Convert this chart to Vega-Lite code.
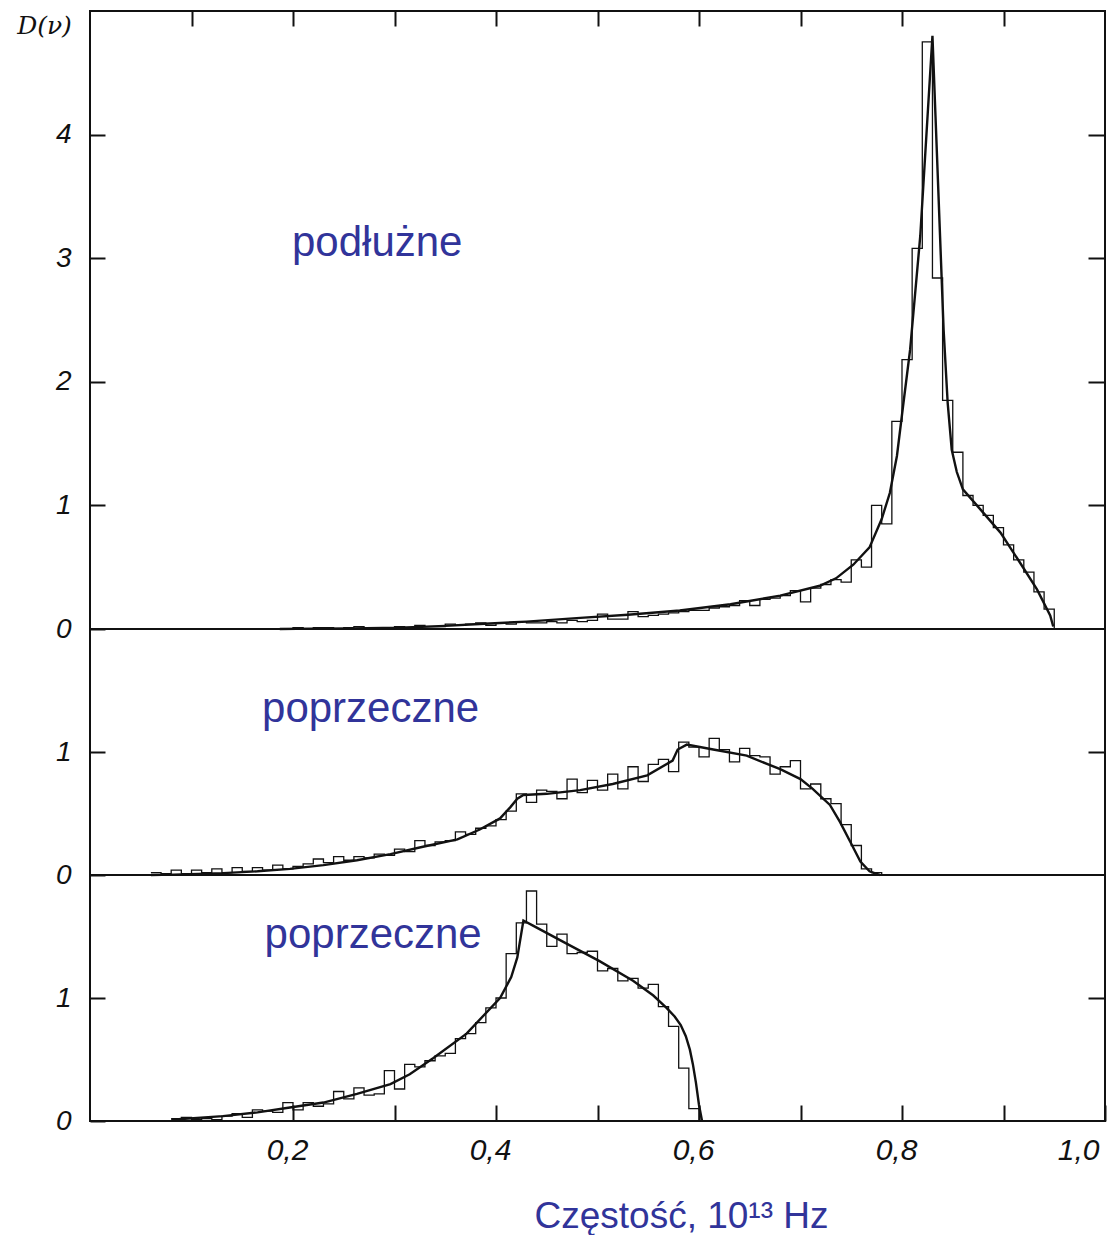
{
  "$schema": "https://vega.github.io/schema/vega-lite/v6.json",
  "padding": {"left": 15, "top": 9, "right": 3, "bottom": 3},
  "background": "white",
  "spacing": 0,
  "bounds": "flush",
  "config": {
    "view": {"stroke": "#111", "strokeWidth": 2},
    "axis": {"grid": false, "domain": false, "tickColor": "#111", "tickWidth": 2, "labelColor": "#111", "labelFont": "Liberation Sans", "labelFontStyle": "italic", "labelFontWeight": "normal"}
  },
  "datasets": {
    "top_hist": [
      {"x":0.19,"y":0.0},{"x":0.20,"y":0.01},{"x":0.21,"y":0.0},{"x":0.22,"y":0.01},{"x":0.23,"y":0.01},{"x":0.24,"y":0.0},{"x":0.25,"y":0.01},{"x":0.26,"y":0.02},{"x":0.27,"y":0.01},{"x":0.28,"y":0.0},{"x":0.29,"y":0.01},{"x":0.30,"y":0.02},{"x":0.31,"y":0.01},{"x":0.32,"y":0.03},{"x":0.33,"y":0.02},{"x":0.34,"y":0.02},{"x":0.35,"y":0.04},{"x":0.36,"y":0.03},{"x":0.37,"y":0.04},{"x":0.38,"y":0.05},{"x":0.39,"y":0.03},{"x":0.40,"y":0.05},{"x":0.41,"y":0.04},{"x":0.42,"y":0.06},{"x":0.43,"y":0.05},{"x":0.44,"y":0.05},{"x":0.45,"y":0.06},{"x":0.46,"y":0.05},{"x":0.47,"y":0.07},{"x":0.48,"y":0.06},{"x":0.49,"y":0.07},{"x":0.50,"y":0.12},{"x":0.51,"y":0.08},{"x":0.52,"y":0.08},{"x":0.53,"y":0.14},{"x":0.54,"y":0.10},{"x":0.55,"y":0.11},{"x":0.56,"y":0.12},{"x":0.57,"y":0.13},{"x":0.58,"y":0.14},{"x":0.59,"y":0.15},{"x":0.60,"y":0.15},{"x":0.61,"y":0.17},{"x":0.62,"y":0.18},{"x":0.63,"y":0.19},{"x":0.64,"y":0.23},{"x":0.65,"y":0.19},{"x":0.66,"y":0.24},{"x":0.67,"y":0.25},{"x":0.68,"y":0.27},{"x":0.69,"y":0.31},{"x":0.70,"y":0.22},{"x":0.71,"y":0.33},{"x":0.72,"y":0.36},{"x":0.73,"y":0.40},{"x":0.74,"y":0.38},{"x":0.75,"y":0.56},{"x":0.76,"y":0.50},{"x":0.77,"y":1.00},{"x":0.78,"y":0.85},{"x":0.79,"y":1.68},{"x":0.80,"y":2.18},{"x":0.81,"y":3.08},{"x":0.82,"y":4.75},{"x":0.83,"y":2.84},{"x":0.84,"y":1.85},{"x":0.85,"y":1.43},{"x":0.86,"y":1.08},{"x":0.87,"y":1.00},{"x":0.88,"y":0.92},{"x":0.89,"y":0.82},{"x":0.90,"y":0.68},{"x":0.91,"y":0.56},{"x":0.92,"y":0.46},{"x":0.93,"y":0.30},{"x":0.94,"y":0.16},{"x":0.95,"y":0.0}
    ],
    "top_curve": [
      {"x":0.187,"y":0.0},{"x":0.22,"y":0.003},{"x":0.256,"y":0.005},{"x":0.305,"y":0.01},{"x":0.35,"y":0.025},{"x":0.384,"y":0.04},{"x":0.43,"y":0.06},{"x":0.483,"y":0.09},{"x":0.53,"y":0.115},{"x":0.581,"y":0.15},{"x":0.631,"y":0.2},{"x":0.68,"y":0.27},{"x":0.719,"y":0.35},{"x":0.735,"y":0.41},{"x":0.752,"y":0.52},{"x":0.768,"y":0.66},{"x":0.78,"y":0.89},{"x":0.788,"y":1.1},{"x":0.795,"y":1.4},{"x":0.801,"y":1.8},{"x":0.808,"y":2.26},{"x":0.818,"y":3.18},{"x":0.83,"y":4.8},{"x":0.833,"y":4.15},{"x":0.836,"y":3.5},{"x":0.841,"y":2.42},{"x":0.845,"y":1.83},{"x":0.849,"y":1.45},{"x":0.854,"y":1.27},{"x":0.86,"y":1.13},{"x":0.877,"y":0.97},{"x":0.897,"y":0.78},{"x":0.916,"y":0.54},{"x":0.933,"y":0.32},{"x":0.946,"y":0.11},{"x":0.949,"y":0.02}
    ],
    "mid_hist": [
      {"x":0.06,"y":0.02},{"x":0.07,"y":0.01},{"x":0.08,"y":0.04},{"x":0.09,"y":0.01},{"x":0.10,"y":0.04},{"x":0.11,"y":0.02},{"x":0.12,"y":0.05},{"x":0.13,"y":0.02},{"x":0.14,"y":0.06},{"x":0.15,"y":0.03},{"x":0.16,"y":0.06},{"x":0.17,"y":0.04},{"x":0.18,"y":0.08},{"x":0.19,"y":0.05},{"x":0.20,"y":0.07},{"x":0.21,"y":0.09},{"x":0.22,"y":0.13},{"x":0.23,"y":0.10},{"x":0.24,"y":0.15},{"x":0.25,"y":0.12},{"x":0.26,"y":0.15},{"x":0.27,"y":0.14},{"x":0.28,"y":0.17},{"x":0.29,"y":0.16},{"x":0.30,"y":0.21},{"x":0.31,"y":0.19},{"x":0.32,"y":0.28},{"x":0.33,"y":0.24},{"x":0.34,"y":0.27},{"x":0.35,"y":0.28},{"x":0.36,"y":0.35},{"x":0.37,"y":0.33},{"x":0.38,"y":0.38},{"x":0.39,"y":0.40},{"x":0.40,"y":0.45},{"x":0.41,"y":0.52},{"x":0.42,"y":0.66},{"x":0.43,"y":0.59},{"x":0.44,"y":0.69},{"x":0.45,"y":0.68},{"x":0.46,"y":0.62},{"x":0.47,"y":0.78},{"x":0.48,"y":0.67},{"x":0.49,"y":0.77},{"x":0.50,"y":0.69},{"x":0.51,"y":0.82},{"x":0.52,"y":0.70},{"x":0.53,"y":0.88},{"x":0.54,"y":0.76},{"x":0.55,"y":0.90},{"x":0.56,"y":0.94},{"x":0.57,"y":0.84},{"x":0.58,"y":1.08},{"x":0.59,"y":1.04},{"x":0.60,"y":0.96},{"x":0.61,"y":1.11},{"x":0.62,"y":1.02},{"x":0.63,"y":0.92},{"x":0.64,"y":1.03},{"x":0.65,"y":0.97},{"x":0.66,"y":0.96},{"x":0.67,"y":0.82},{"x":0.68,"y":0.88},{"x":0.69,"y":0.93},{"x":0.70,"y":0.70},{"x":0.71,"y":0.74},{"x":0.72,"y":0.62},{"x":0.73,"y":0.58},{"x":0.74,"y":0.41},{"x":0.75,"y":0.24},{"x":0.76,"y":0.05},{"x":0.77,"y":0.02},{"x":0.78,"y":0.0}
    ],
    "mid_curve": [
      {"x":0.06,"y":0.0},{"x":0.082,"y":0.003},{"x":0.131,"y":0.015},{"x":0.165,"y":0.03},{"x":0.197,"y":0.05},{"x":0.23,"y":0.08},{"x":0.263,"y":0.12},{"x":0.296,"y":0.17},{"x":0.328,"y":0.23},{"x":0.362,"y":0.29},{"x":0.384,"y":0.37},{"x":0.404,"y":0.46},{"x":0.414,"y":0.55},{"x":0.421,"y":0.62},{"x":0.427,"y":0.65},{"x":0.45,"y":0.66},{"x":0.483,"y":0.69},{"x":0.515,"y":0.74},{"x":0.549,"y":0.81},{"x":0.574,"y":0.93},{"x":0.579,"y":1.02},{"x":0.588,"y":1.06},{"x":0.614,"y":1.02},{"x":0.647,"y":0.97},{"x":0.68,"y":0.86},{"x":0.70,"y":0.78},{"x":0.712,"y":0.70},{"x":0.729,"y":0.57},{"x":0.739,"y":0.43},{"x":0.749,"y":0.27},{"x":0.759,"y":0.11},{"x":0.768,"y":0.03},{"x":0.778,"y":0.0}
    ],
    "bot_hist": [
      {"x":0.08,"y":0.02},{"x":0.09,"y":0.03},{"x":0.10,"y":0.01},{"x":0.11,"y":0.02},{"x":0.12,"y":0.01},{"x":0.13,"y":0.04},{"x":0.14,"y":0.06},{"x":0.15,"y":0.03},{"x":0.16,"y":0.09},{"x":0.17,"y":0.08},{"x":0.18,"y":0.07},{"x":0.19,"y":0.15},{"x":0.20,"y":0.09},{"x":0.21,"y":0.15},{"x":0.22,"y":0.12},{"x":0.23,"y":0.14},{"x":0.24,"y":0.24},{"x":0.25,"y":0.18},{"x":0.26,"y":0.27},{"x":0.27,"y":0.21},{"x":0.28,"y":0.22},{"x":0.29,"y":0.41},{"x":0.30,"y":0.26},{"x":0.31,"y":0.46},{"x":0.32,"y":0.44},{"x":0.33,"y":0.49},{"x":0.34,"y":0.53},{"x":0.35,"y":0.55},{"x":0.36,"y":0.67},{"x":0.37,"y":0.71},{"x":0.38,"y":0.80},{"x":0.39,"y":0.92},{"x":0.40,"y":1.00},{"x":0.41,"y":1.36},{"x":0.42,"y":1.61},{"x":0.43,"y":1.87},{"x":0.44,"y":1.60},{"x":0.45,"y":1.42},{"x":0.46,"y":1.52},{"x":0.47,"y":1.36},{"x":0.48,"y":1.37},{"x":0.49,"y":1.38},{"x":0.50,"y":1.22},{"x":0.51,"y":1.24},{"x":0.52,"y":1.14},{"x":0.53,"y":1.16},{"x":0.54,"y":1.08},{"x":0.55,"y":1.11},{"x":0.56,"y":0.93},{"x":0.57,"y":0.77},{"x":0.58,"y":0.43},{"x":0.59,"y":0.10},{"x":0.60,"y":0.0}
    ],
    "bot_curve": [
      {"x":0.08,"y":0.01},{"x":0.131,"y":0.04},{"x":0.165,"y":0.07},{"x":0.197,"y":0.11},{"x":0.23,"y":0.15},{"x":0.263,"y":0.22},{"x":0.296,"y":0.30},{"x":0.315,"y":0.38},{"x":0.338,"y":0.51},{"x":0.371,"y":0.71},{"x":0.404,"y":1.0},{"x":0.415,"y":1.17},{"x":0.421,"y":1.33},{"x":0.427,"y":1.63},{"x":0.436,"y":1.59},{"x":0.47,"y":1.44},{"x":0.502,"y":1.30},{"x":0.535,"y":1.14},{"x":0.555,"y":1.02},{"x":0.568,"y":0.92},{"x":0.576,"y":0.85},{"x":0.582,"y":0.78},{"x":0.587,"y":0.69},{"x":0.591,"y":0.58},{"x":0.594,"y":0.46},{"x":0.597,"y":0.31},{"x":0.600,"y":0.13},{"x":0.603,"y":0.0}
    ],
    "labels": [
      {"panel":"top","label":"podłużne","x":0.199,"y":3.02},
      {"panel":"mid","label":"poprzeczne","x":0.1695,"y":1.244},
      {"panel":"bot","label":"poprzeczne","x":0.172,"y":1.41}
    ]
  },
  "vconcat": [
    {
      "width": 1015, "height": 618,
      "layer": [
        {
          "data": {"name": "top_hist"},
          "mark": {"type": "line", "interpolate": "step-after", "color": "#111", "strokeWidth": 1.3},
          "encoding": {
            "x": {"field": "x", "type": "quantitative", "scale": {"domain": [0, 1], "nice": false, "zero": false},
                  "axis": {"orient": "top", "values": [0.1,0.2,0.3,0.4,0.5,0.6,0.7,0.8,0.9], "labels": false, "tickSize": -15, "title": null}},
            "y": {"field": "y", "type": "quantitative", "scale": {"domain": [0, 5], "nice": false},
                  "axis": {"orient": "left", "values": [0,1,2,3,4], "tickSize": -15, "labelPadding": 34, "labelFontSize": 28, "labelBaseline": "middle",
                           "title": "D(ν)", "titleAngle": 0, "titleX": -46, "titleY": 14, "titleAlign": "center", "titleBaseline": "middle",
                           "titleFont": "DejaVu Serif", "titleFontStyle": "italic", "titleFontWeight": "normal", "titleFontSize": 25, "titleColor": "#111"}}
          }
        },
        {
          "data": {"name": "top_curve"},
          "mark": {"type": "line", "color": "#111", "strokeWidth": 2.4},
          "encoding": {
            "x": {"field": "x", "type": "quantitative", "axis": null},
            "y": {"field": "y", "type": "quantitative", "axis": {"orient": "right", "values": [1,2,3,4], "labels": false, "tickSize": -17, "title": null}}
          }
        },
        {
          "data": {"name": "labels"},
          "transform": [{"filter": "datum.panel == 'top'"}],
          "mark": {"type": "text", "align": "left", "baseline": "alphabetic", "font": "Liberation Sans", "fontSize": 42, "color": "#31349a"},
          "encoding": {
            "x": {"field": "x", "type": "quantitative", "axis": null},
            "y": {"field": "y", "type": "quantitative", "axis": null},
            "text": {"field": "label"}
          }
        }
      ],
      "resolve": {"axis": {"x": "independent", "y": "independent"}}
    },
    {
      "width": 1015, "height": 246,
      "layer": [
        {
          "data": {"name": "mid_hist"},
          "mark": {"type": "line", "interpolate": "step-after", "color": "#111", "strokeWidth": 1.3},
          "encoding": {
            "x": {"field": "x", "type": "quantitative", "scale": {"domain": [0, 1], "nice": false, "zero": false}, "axis": null},
            "y": {"field": "y", "type": "quantitative", "scale": {"domain": [0, 2], "nice": false},
                  "axis": {"orient": "left", "values": [0,1], "tickSize": -15, "labelPadding": 34, "labelFontSize": 28, "labelBaseline": "middle", "title": null}}
          }
        },
        {
          "data": {"name": "mid_curve"},
          "mark": {"type": "line", "color": "#111", "strokeWidth": 2.4},
          "encoding": {
            "x": {"field": "x", "type": "quantitative", "axis": null},
            "y": {"field": "y", "type": "quantitative", "axis": {"orient": "right", "values": [1], "labels": false, "tickSize": -17, "title": null}}
          }
        },
        {
          "data": {"name": "labels"},
          "transform": [{"filter": "datum.panel == 'mid'"}],
          "mark": {"type": "text", "align": "left", "baseline": "alphabetic", "font": "Liberation Sans", "fontSize": 42, "color": "#31349a"},
          "encoding": {
            "x": {"field": "x", "type": "quantitative", "axis": null},
            "y": {"field": "y", "type": "quantitative", "axis": null},
            "text": {"field": "label"}
          }
        }
      ],
      "resolve": {"axis": {"x": "independent", "y": "independent"}}
    },
    {
      "width": 1015, "height": 246,
      "layer": [
        {
          "data": {"name": "bot_hist"},
          "mark": {"type": "line", "interpolate": "step-after", "color": "#111", "strokeWidth": 1.3},
          "encoding": {
            "x": {"field": "x", "type": "quantitative", "scale": {"domain": [0, 1], "nice": false, "zero": false},
                  "axis": {"orient": "bottom", "values": [0.2,0.3,0.4,0.5,0.6,0.7,0.8,0.9,1.0], "tickSize": -16, "labelPadding": 30, "labelFontSize": 30, "labelFlush": true, "labelOffset": -6,
                           "labelExpr": "round(datum.value*10) % 2 == 0 ? replace(format(datum.value, '.1f'), '.', ',') : ''",
                           "title": "Częstość, 10¹³ Hz", "titleFont": "Liberation Sans", "titleFontSize": 37, "titleFontWeight": "normal", "titleColor": "#31349a",
                           "titleAlign": "left", "titleBaseline": "alphabetic", "titleX": 444, "titleY": 106, "titleAnchor": null}},
            "y": {"field": "y", "type": "quantitative", "scale": {"domain": [0, 2], "nice": false},
                  "axis": {"orient": "left", "values": [0,1], "tickSize": -15, "labelPadding": 34, "labelFontSize": 28, "labelBaseline": "middle", "title": null}}
          }
        },
        {
          "data": {"name": "bot_curve"},
          "mark": {"type": "line", "color": "#111", "strokeWidth": 2.4},
          "encoding": {
            "x": {"field": "x", "type": "quantitative", "axis": null},
            "y": {"field": "y", "type": "quantitative", "axis": {"orient": "right", "values": [1], "labels": false, "tickSize": -17, "title": null}}
          }
        },
        {
          "data": {"name": "labels"},
          "transform": [{"filter": "datum.panel == 'bot'"}],
          "mark": {"type": "text", "align": "left", "baseline": "alphabetic", "font": "Liberation Sans", "fontSize": 42, "color": "#31349a"},
          "encoding": {
            "x": {"field": "x", "type": "quantitative", "axis": null},
            "y": {"field": "y", "type": "quantitative", "axis": null},
            "text": {"field": "label"}
          }
        }
      ],
      "resolve": {"axis": {"x": "independent", "y": "independent"}}
    }
  ]
}
